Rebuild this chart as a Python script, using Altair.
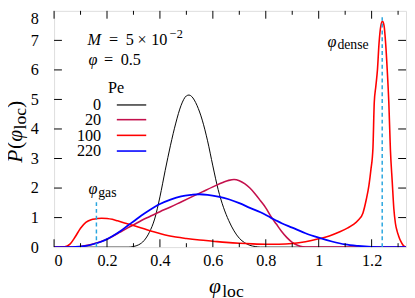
import altair as alt
import pandas as pd

# ---------------- data ----------------
PE_LABELS = ["0", "20", "100", "220"]
PE_COLORS = ["#000000", "#c4104c", "#ff0000", "#0000ff"]

BLACK_X = [0, 0.28, 0.30, 0.32, 0.34, 0.36, 0.38, 0.40, 0.42, 0.44, 0.46, 0.48, 0.50, 0.51,
           0.52, 0.54, 0.56, 0.58, 0.60, 0.62, 0.64, 0.66, 0.68, 0.70, 0.72, 0.74, 0.76, 0.78, 1.33]
BLACK_Y = [0, 0, 0.02, 0.08, 0.22, 0.5, 0.95, 1.7, 2.6, 3.45, 4.2, 4.8, 5.12, 5.15,
           5.1, 4.8, 4.3, 3.6, 2.75, 1.95, 1.35, 0.9, 0.55, 0.3, 0.15, 0.06, 0.02, 0, 0]

CRIMSON_X = [0, 0.07, 0.10, 0.12, 0.14, 0.16, 0.18, 0.20, 0.22, 0.25, 0.28, 0.30, 0.33, 0.36,
             0.40, 0.44, 0.48, 0.52, 0.56, 0.60, 0.64, 0.66, 0.68, 0.70, 0.72, 0.74, 0.76, 0.78,
             0.80, 0.82, 0.84, 0.86, 0.88, 0.90, 0.92, 0.94, 0.96, 1.33]
CRIMSON_Y = [0, 0, 0.02, 0.05, 0.09, 0.14, 0.2, 0.27, 0.36, 0.51, 0.66, 0.75, 0.9, 1.03,
             1.2, 1.36, 1.53, 1.7, 1.87, 2.04, 2.2, 2.26, 2.29, 2.25, 2.15, 2.0, 1.8, 1.57,
             1.33, 1.03, 0.78, 0.53, 0.32, 0.16, 0.06, 0.01, 0, 0]

RED_X = [0, 0.04, 0.06, 0.08, 0.10, 0.12, 0.14, 0.16, 0.18, 0.20, 0.22, 0.24, 0.27, 0.30,
         0.34, 0.38, 0.42, 0.46, 0.50, 0.55, 0.60, 0.65, 0.70, 0.75, 0.80, 0.85, 0.90, 0.95,
         1.00, 1.04, 1.08, 1.11, 1.13, 1.15, 1.167, 1.18, 1.19, 1.197, 1.205, 1.21, 1.216,
         1.222, 1.228, 1.235, 1.241, 1.247, 1.253, 1.259, 1.265, 1.271, 1.278, 1.284, 1.29,
         1.296, 1.302, 1.31, 1.32, 1.33]
RED_Y = [0, 0.01, 0.1, 0.35, 0.64, 0.84, 0.93, 0.96, 0.98, 0.97, 0.94, 0.89, 0.81, 0.73,
         0.62, 0.51, 0.41, 0.34, 0.29, 0.24, 0.2, 0.16, 0.13, 0.11, 0.1, 0.1, 0.12, 0.18,
         0.28, 0.38, 0.52, 0.65, 0.76, 0.92, 1.15, 1.62, 2.1, 2.6, 3.35, 4.9, 5.45,
         6.0, 6.9, 7.5, 7.65, 7.5, 6.9, 6.0, 4.9, 3.3, 2.2, 1.3, 0.8,
         0.55, 0.38, 0.2, 0.05, 0.0]

BLUE_X = [0, 0.07, 0.10, 0.12, 0.14, 0.16, 0.18, 0.20, 0.22, 0.25, 0.28, 0.30, 0.33, 0.36,
          0.40, 0.44, 0.48, 0.52, 0.55, 0.58, 0.62, 0.66, 0.70, 0.74, 0.78, 0.82, 0.86, 0.90,
          0.95, 1.00, 1.05, 1.10, 1.15, 1.20, 1.25, 1.33]
BLUE_Y = [0, 0, 0.02, 0.04, 0.08, 0.13, 0.19, 0.27, 0.37, 0.54, 0.74, 0.87, 1.07, 1.25,
          1.46, 1.61, 1.72, 1.77, 1.79, 1.77, 1.71, 1.62, 1.49, 1.33, 1.18, 0.99, 0.81, 0.66,
          0.47, 0.32, 0.19, 0.09, 0.04, 0.01, 0, 0]

# reference lines phi_gas, phi_dense (x, top)
REF_X = [0.16, 1.24]
REF_TOP = [1.52, 7.78]

X_TICKS_MAJOR = [0, 0.2, 0.4, 0.6, 0.8, 1, 1.2]
X_TICKS_MINOR = [0.1, 0.3, 0.5, 0.7, 0.9, 1.1, 1.3]
Y_TICKS = [0, 1, 2, 3, 4, 5, 6, 7, 8]
Y_TICKS_INNER = [1, 2, 3, 4, 5, 6, 7]

# ---------------- layout ----------------
W, H = 359, 241
FONT = "Liberation Serif"
FS = 16.5
SUB = 14
TFS = 22
TSUB = 18

def px(v):
    return v - 55

def py(v):
    return v - 8

xs = alt.Scale(domain=[0, 1.33], nice=False, zero=False)
ys = alt.Scale(domain=[0, 8], nice=False, zero=False)
xax = alt.Axis(values=X_TICKS_MAJOR, title=None, domain=False, ticks=False, grid=False, format="~g",
               labelPadding=6, labelFontSize=FS, labelFont=FONT, labelColor="black")
yax = alt.Axis(values=Y_TICKS, title=None, domain=False, ticks=False, grid=False, format="~g",
               labelPadding=16, labelFontSize=FS, labelFont=FONT, labelColor="black",
               labelBaseline={"condition": {"test": "datum.value == 8", "value": "top"},
                              "value": "middle"})

def X(f):
    return alt.X(f, scale=xs, axis=xax, title=None)

def Y(f):
    return alt.Y(f, scale=ys, axis=yax, title=None)

series = [
    (BLACK_X, BLACK_Y, PE_COLORS[0], 1.0),
    (CRIMSON_X, CRIMSON_Y, PE_COLORS[1], 1.6),
    (RED_X, RED_Y, PE_COLORS[2], 1.6),
    (BLUE_X, BLUE_Y, PE_COLORS[3], 1.8),
]

layers = []
for xv, yv, col, sw in series:
    df = pd.DataFrame({"x": xv, "y": yv})
    layers.append(
        alt.Chart(df).mark_line(color=col, strokeWidth=sw, interpolate="monotone", clip=True)
        .encode(x=X("x:Q"), y=Y("y:Q"))
    )

ref_df = pd.DataFrame({"x": REF_X, "y0": [0, 0], "y1": REF_TOP})
layers.append(
    alt.Chart(ref_df).mark_rule(color="#2aa6df", strokeWidth=1.5, strokeDash=[4, 3])
    .encode(x=X("x:Q"), y=Y("y0:Q"), y2="y1:Q")
)

# inward ticks on all four sides
maj = pd.DataFrame({"t": X_TICKS_MAJOR})
mnr = pd.DataFrame({"t": X_TICKS_MINOR})
yt = pd.DataFrame({"t": Y_TICKS_INNER})
for dfk, ln in ((maj, 8), (mnr, 4)):
    layers.append(alt.Chart(dfk).mark_rule(color="black", strokeWidth=1)
                  .encode(x=X("t:Q"), y=alt.value(H), y2=alt.value(H - ln)))
    layers.append(alt.Chart(dfk).mark_rule(color="black", strokeWidth=1)
                  .encode(x=X("t:Q"), y=alt.value(0), y2=alt.value(ln)))
layers.append(alt.Chart(yt).mark_rule(color="black", strokeWidth=1)
              .encode(y=Y("t:Q"), x=alt.value(0), x2=alt.value(8)))
layers.append(alt.Chart(yt).mark_rule(color="black", strokeWidth=1)
              .encode(y=Y("t:Q"), x=alt.value(W - 8), x2=alt.value(W)))

# legend (labels left of line samples)
LEG_Y = [104, 119, 135, 151]
for lab, col, ly in zip(PE_LABELS, PE_COLORS, LEG_Y):
    layers.append(alt.Chart().mark_rule(color=col, strokeWidth=1.2 if lab == "0" else 1.6)
                  .encode(x=alt.value(px(119)), x2=alt.value(px(149)), y=alt.value(py(ly))))
    layers.append(alt.Chart().mark_text(text=lab, font=FONT, fontSize=FS, align="right",
                                        baseline="middle", color="black")
                  .encode(x=alt.value(px(103)), y=alt.value(py(ly + 0.5))))

# text annotations: (text, page x, page baseline y, size, italic, angle)
ANN = [
    ("M", 89, 42.5, FS, True, 0),
    ("=", 111, 42.5, FS, False, 0),
    ("5", 128, 42.5, FS, False, 0),
    ("×", 140, 42.5, FS, False, 0),
    ("10", 154, 42.5, FS, False, 0),
    ("−2", 173, 35.5, 12.5, False, 0),
    ("φ", 90, 63, FS, True, 0),
    ("=", 106, 63, FS, False, 0),
    ("0.5", 123, 63, FS, False, 0),
    ("Pe", 110, 92, FS, False, 0),
    ("φ", 334, 44.5, FS, True, 0),
    ("dense", 344, 47, SUB, False, 0),
    ("φ", 90, 195, FS, True, 0),
    ("gas", 100, 197.5, SUB, False, 0),
    ("φ", 213, 296, TFS, True, 0),
    ("loc", 226.5, 299.5, TSUB, False, 0),
    ("P", 22, 163, TFS, True, 270),
    ("(", 22, 149, TFS, False, 270),
    ("φ", 22, 141.5, TFS, True, 270),
    ("loc", 26.5, 129, TSUB, False, 270),
    (")", 22, 107, TFS, False, 270),
]
for txt, x0, y0, fs, it, ang in ANN:
    kw = dict(text=txt, font=FONT, fontSize=fs, align="left", baseline="alphabetic", color="black")
    if it:
        kw["fontStyle"] = "italic"
    if ang:
        kw["angle"] = ang
    layers.append(alt.Chart().mark_text(**kw).encode(x=alt.value(px(x0)), y=alt.value(py(y0))))

chart = alt.layer(*layers).properties(
    width=W, height=H,
    autosize=alt.AutoSizeParams(type="none"),
    padding={"left": 47, "top": 0, "right": 1, "bottom": 49},
).configure_view(stroke="#808080", strokeWidth=2).configure(background="white").configure_axis(
    labelFont=FONT, labelFontSize=FS
)

chart.save("out.html", embed_options={"renderer": "svg", "actions": False})
